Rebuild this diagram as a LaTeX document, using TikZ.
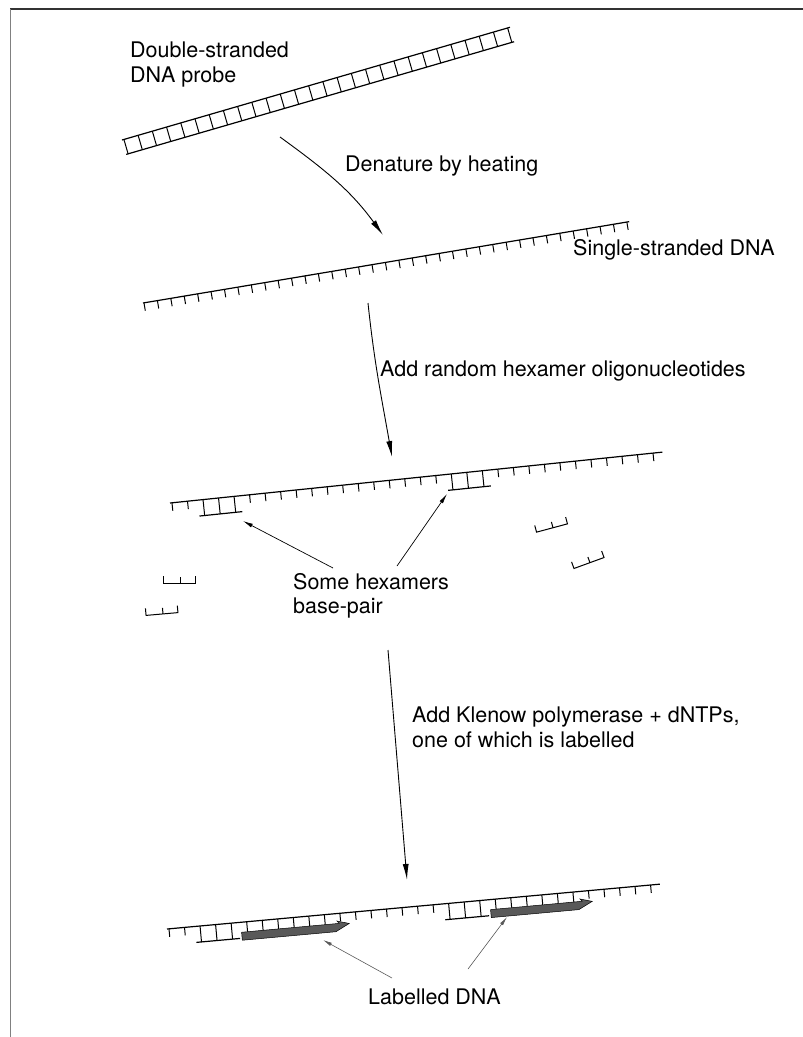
\documentclass[tikz,border=0pt]{standalone}
\usepackage{fontspec}
\setmainfont{TeX Gyre Heros}
\usetikzlibrary{arrows.meta}

\begin{document}
\begin{tikzpicture}[x=1pt, y=-1pt,
    txt/.style={font=\fontsize{21.5}{24.5}\selectfont, anchor=north west, inner sep=0pt, align=left},
    backbone/.style={line width=1.2pt},
    base/.style={line width=1pt},
    arrow/.style={-{Latex[length=16pt, width=6pt]}, line width=0.9pt},
    pointer/.style={-{Latex[length=10pt, width=4pt]}, line width=0.7pt},
    faint/.style={-{Latex[length=9pt, width=3.5pt]}, line width=0.6pt, black!65},
    labelbar/.style={fill=black!65, draw=black, line width=0.5pt}
  ]
  \useasboundingbox (0,0) rectangle (803,1037);

  % frame
  \draw[black!80, line width=1.3pt] (10,9) -- (803,9);
  \draw[black!50, line width=1pt] (10,9) -- (10,1037);

  % texts
  \node[txt] (probe) at (130,42) {Double-stranded\\DNA probe};
  \node[txt] (denature) at (345,156) {Denature by heating};
  \node[txt] (single) at (573,239) {Single-stranded DNA};
  \node[txt] (addhex) at (380,361) {Add random hexamer oligonucleotides};
  \node[txt] (somehex) at (293,573) {Some hexamers\\base-pair};
  \node[txt] (klenow) at (412,707) {Add Klenow polymerase + dNTPs,\\one of which is labelled};
  \node[txt] (labelled) at (368,989) {Labelled DNA};

  % double-stranded probe
  \begin{scope}[shift={(122,140)}, rotate=16.2]
    \draw[backbone] (0,0) -- (404,0) (0,15) -- (404,15);
    \foreach \i in {0,...,27}
      \draw[base] (2+14.8*\i,0) -- ++(0,15);
  \end{scope}

  % single strand
  \begin{scope}[shift={(143,303)}, rotate=9.5]
    \draw[backbone] (0,0) -- (493,0);
    \foreach \i in {0,...,36}
      \draw[base] (1+13.6*\i,0) -- ++(0,8);
  \end{scope}

  % strand with bound hexamers
  \begin{scope}[shift={(170,503)}, rotate=5.9]
    \draw[backbone] (0,0) -- (495,0);
    \foreach \k in {0,1,5,6,...,17,21,22,...,31}
      \draw[base] (2+15.6*\k,0) -- ++(0,8);
    \foreach \k in {2,3,4,18,19,20}
      \draw[base] (2+15.6*\k,0) -- ++(0,16);
    \draw[backbone] (28,16) -- (71,16);
    \draw[backbone] (278,16) -- (321,16);
  \end{scope}

  % free hexamers
  \foreach \p/\r in {{(552,528)}/15, {(589,563)}/20, {(179,583)}/0, {(162,614)}/5}
    \draw[base, shift={\p}, rotate=\r] (-16,-7) -- (-16,0) -- (16,0) -- (16,-7) (1,0) -- (1,-6);

  % extended, labelled strands
  \begin{scope}[shift={(167,929)}, rotate=5.2]
    \draw[backbone] (0,0) -- (495,0);
    \foreach \k in {0,1,11,12,...,17,27,28,...,31}
      \draw[base] (2+15.6*\k,0) -- ++(0,8);
    \foreach \k in {2,3,4,18,19,20}
      \draw[base] (2+15.6*\k,0) -- ++(0,16);
    \foreach \k in {5,6,...,10,21,22,...,26}
      \draw[base] (2+15.6*\k,0) -- ++(0,10);
    \draw[backbone] (28,16) -- (72,16);
    \draw[backbone] (278,16) -- (322,16);
    \draw[labelbar] (74,10) -- (172,10) -- (170,7.5) -- (182,11) -- (168,18) -- (74,18) -- cycle;
    \draw[labelbar] (324,10) -- (416,10) -- (414,7.5) -- (426,11) -- (412,18) -- (324,18) -- cycle;
  \end{scope}

  % arrows
  \coordinate (a1s) at (280,137);
  \coordinate (a1e) at (383,235);
  \coordinate (a2s) at (368,303);
  \coordinate (a2e) at (392,457);
  \coordinate (a3s) at (388,650);
  \coordinate (a3e) at (407,880);
  \draw[arrow] (a1s) to[out=-36, in=126] (a1e);
  \draw[arrow] (a2s) to[out=-84, in=100] (a2e);
  \draw[arrow] (a3s) -- (a3e);

  \coordinate (hexL) at (243,521);
  \coordinate (hexR) at (447,494);
  \draw[pointer] (333,568) coordinate (pl) -- (hexL);
  \draw[pointer] (397,566) coordinate (pr) -- (hexR);

  \coordinate (barL) at (323,940);
  \coordinate (barR) at (507,917);
  \draw[faint] (392,978) coordinate (ll) -- (barL);
  \draw[faint] (468,969) coordinate (lr) -- (barR);
\end{tikzpicture}
\end{document}
